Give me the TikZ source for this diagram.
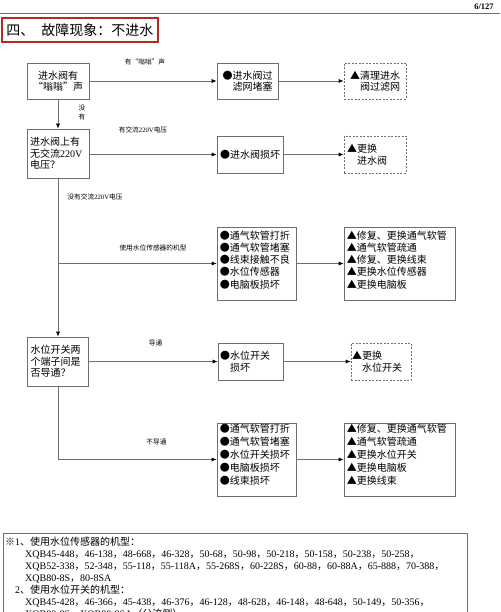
\documentclass[tikz,border=0pt]{standalone}
\usepackage{fontspec}
\setmainfont{Liberation Serif}
\newfontfamily\cjkfont{Noto Sans CJK SC}
\usetikzlibrary{arrows.meta}
\definecolor{linegray}{RGB}{110,110,110}
\definecolor{titlered}{RGB}{175,45,35}
% automatic switch to the CJK font for CJK characters
\XeTeXinterchartokenstate=1
\chardef\cjkcls=1
\newcount\mycnt
\def\setcls#1#2{\mycnt=#1\relax\loop\XeTeXcharclass\mycnt=\cjkcls\ifnum\mycnt<#2\advance\mycnt by 1\repeat}
\setcls{"4E00}{"9FFF}
\setcls{"3000}{"303F}
\setcls{"FF00}{"FFEF}
\setcls{"201C}{"201D}
\setcls{"25A0}{"25FF}
\XeTeXcharclass"203B=\cjkcls
\XeTeXinterchartoks 0 \cjkcls = {\cjkfont}
\XeTeXinterchartoks 4095 \cjkcls = {\cjkfont}
\XeTeXinterchartoks \cjkcls 0 = {\rmfamily}
\XeTeXinterchartoks \cjkcls 4095 = {\rmfamily}
\newcommand{\myopq}{\makebox[1em][r]{“}}
\newcommand{\myclq}{\makebox[1em][l]{”}}
\begin{document}
\begin{tikzpicture}[x=1pt,y=-1pt,
  box/.style={draw=linegray, line width=0.7pt, inner sep=0pt, font=\fontsize{10}{11.5}\selectfont, align=left},
  dbox/.style={box, dash pattern=on 2pt off 1.5pt},
  arr/.style={draw=linegray, line width=0.7pt, -{Latex[length=5pt,width=4pt,color=black]}},
  ln/.style={draw=linegray, line width=0.7pt},
  lbl/.style={font=\fontsize{6.7}{9}\selectfont, inner sep=0pt, align=center},
  lst/.style={font=\fontsize{10}{12.3}\selectfont, inner sep=0pt, align=left, anchor=north west},
  lstb/.style={font=\fontsize{10}{12.9}\selectfont, inner sep=0pt, align=left, anchor=north west}]
\useasboundingbox (0,0) rectangle (500,612);
\clip (0,0) rectangle (500,612);

% header
\node[font=\fontsize{8.5}{10}\selectfont\bfseries, inner sep=0pt] (pg) at (484,7) {6/127};
\coordinate (hl) at (0,13);
\coordinate (hr) at (500,13);
\draw[draw=linegray, line width=0.8pt] (hl) -- (hr);

% title
\node[draw=titlered, line width=1.6pt, anchor=west, inner xsep=4.5pt, inner ysep=0pt,
      minimum height=24pt, font=\fontsize{14}{16}\selectfont] (title) at (1,30)
      {四、\hspace{0.5em}故障现象：不进水};

% row 1
\node[box, align=center, minimum width=62pt, minimum height=36pt] (a) at (58,81) {进水阀有\\\myopq 嗡嗡\myclq 声};
\node[box, minimum width=61pt, minimum height=36pt] (b) at (247.5,81) {●进水阀过\\\hspace*{1em}滤网堵塞};
\node[dbox, minimum width=62pt, minimum height=36pt] (c) at (375,81) {▲清理进水\\\hspace*{1em}阀过滤网};

% row 2
\node[box, text width=56pt, minimum width=62pt, minimum height=49pt] (d) at (58,153.5) {进水阀上有\\无交流220V\\电压？};
\node[box, minimum width=66pt, minimum height=37pt] (e) at (250,154.5) {●进水阀损坏};
\node[dbox, text width=56pt, minimum width=62pt, minimum height=37pt] (f) at (375,154.5) {▲更换\\\hspace*{1em}进水阀};

% row 3
\node[box, minimum width=79pt, minimum height=73pt] (g) at (256.5,263.5) {};
\node[lst] (gt) at ([xshift=3pt,yshift=-3.8pt]g.north west)
  {●通气软管打折\\●通气软管堵塞\\●线束接触不良\\●水位传感器\\●电脑板损坏};
\node[box, minimum width=111pt, minimum height=73pt] (i) at (399.5,263.5) {};
\node[lst] (it) at ([xshift=3pt,yshift=-3.8pt]i.north west)
  {▲修复、更换通气软管\\▲通气软管疏通\\▲修复、更换线束\\▲更换水位传感器\\▲更换电脑板};

% row 4
\node[box, text width=55pt, minimum width=61pt, minimum height=49pt] (h) at (58,361.5) {水位开关两\\个端子间是\\否导通？};
\node[box, text width=61pt, minimum width=65pt, minimum height=37pt] (j) at (250.5,361.5) {●水位开关\\\hspace*{1em}损坏};
\node[dbox, text width=58pt, minimum width=60pt, minimum height=37pt] (k) at (381,361.5) {▲更换\\\hspace*{1em}水位开关};

% row 5
\node[box, minimum width=79pt, minimum height=73pt] (l) at (256.5,459.5) {};
\node[lstb] (lt) at ([xshift=3pt,yshift=-1.5pt]l.north west)
  {●通气软管打折\\●通气软管堵塞\\●水位开关损坏\\●电脑板损坏\\●线束损坏};
\node[box, minimum width=111pt, minimum height=73pt] (m) at (399.5,459.5) {};
\node[lstb] (mt) at ([xshift=3pt,yshift=-1.5pt]m.north west)
  {▲修复、更换通气软管\\▲通气软管疏通\\▲更换水位开关\\▲更换电脑板\\▲更换线束};

% connectors
\draw[arr] (a) -- (b);
\draw[arr] (b) -- (c);
\draw[arr] (a) -- (d);
\draw[arr] (d.east |- e.west) -- (e);
\draw[arr] (e) -- (f);
\draw[arr] (d) -- (h);
\draw[arr] (d.south |- g.west) -- (g);
\draw[arr] (g) -- (i);
\draw[arr] (h) -- (j);
\draw[arr] (j) -- (k);
\draw[arr] (h.south) |- (l.west);
\draw[arr] (l) -- (m);

% labels
\node[lbl] (l1) at (145,62) {有\myopq 嗡嗡\myclq 声};
\node[lbl] (l2) at (82,112.5) {没\\有};
\node[lbl] (l3) at (143,130) {有交流220V电压};
\node[lbl] (l4) at (95,197) {没有交流220V电压};
\node[lbl] (l5) at (153,248) {使用水位传感器的机型};
\node[lbl] (l6) at (155.5,343) {导通};
\node[lbl] (l7) at (156.5,442) {不导通};

% notes
\node[draw=linegray, line width=0.7pt, minimum width=464pt, minimum height=110pt, anchor=north west, inner sep=0pt] (notes) at (3,533) {};
\node[font=\fontsize{10}{12}\selectfont, inner sep=0pt, align=left, anchor=north west] (nt) at ([xshift=2pt,yshift=-3.5pt]notes.north west)
 {※1、使用水位传感器的机型：\\
  \hspace*{2em}XQB45-448，46-138，48-668，46-328，50-68，50-98，50-218，50-158，50-238，50-258，\\
  \hspace*{2em}XQB52-338，52-348，55-118，55-118A，55-268S，60-228S，60-88，60-88A，65-888，70-388，\\
  \hspace*{2em}XQB80-8S，80-8SA\\
  \hspace*{1em}2、使用水位开关的机型：\\
  \hspace*{2em}XQB45-428，46-366，45-438，46-376，46-128，48-628，46-148，48-648，50-149，50-356，\\
  \hspace*{2em}XQB80-8S，XQB80-8SA（分流侧）};
\end{tikzpicture}
\end{document}
